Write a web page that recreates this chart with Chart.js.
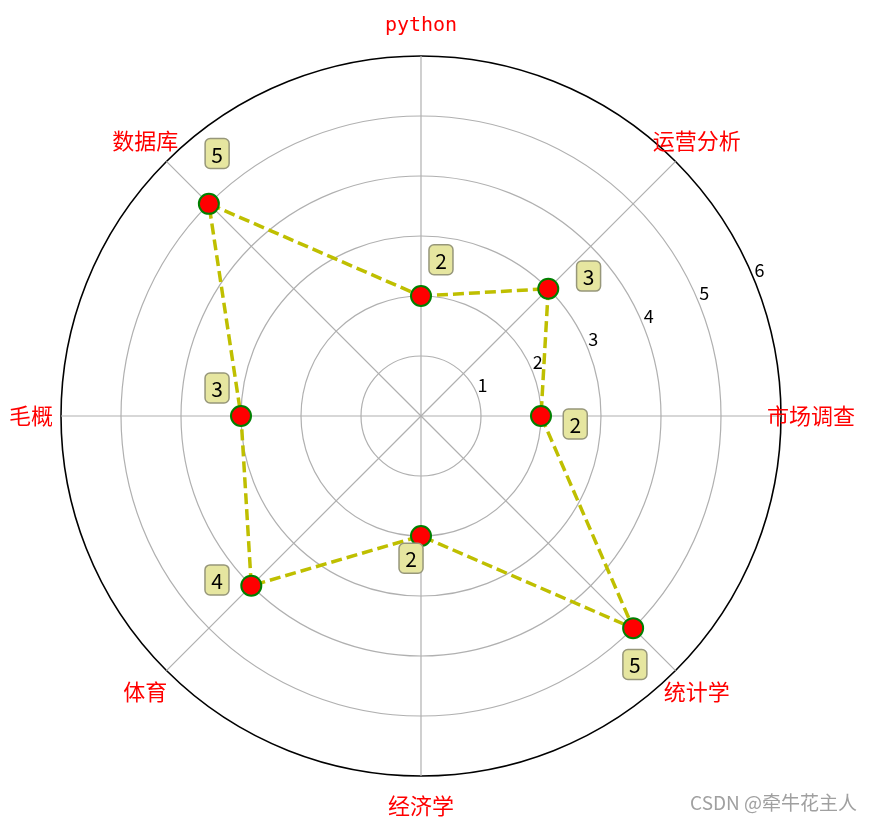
<!DOCTYPE html>
<html>
<head>
<meta charset="utf-8">
<script src="https://cdn.jsdelivr.net/npm/chart.js@4"></script>
<style>
  html, body { margin: 0; padding: 0; background: #fff; }
  #wrap { width: 873px; height: 823px; }
</style>
</head>
<body>
<div id="wrap"><canvas id="radarChart"></canvas></div>
<script>
const categories = ['python', '运营分析', '市场调查', '统计学', '经济学', '体育', '毛概', '数据库'];
const scores = [2, 3, 2, 5, 2, 4, 3, 5];
const tickLabels = [1, 2, 3, 4, 5, 6];

// draws the polar texts the way matplotlib places them
const polarText = {
  id: 'polarText',
  afterDatasetsDraw(chart) {
    const r = chart.scales.r;
    const c = chart.ctx;
    const at = (angle, value) => {
      const d = r.getDistanceFromCenterForValue(value);
      return { x: r.xCenter + Math.cos(angle) * d, y: r.yCenter + Math.sin(angle) * d };
    };
    c.save();

    // radial tick labels along 22.5 deg
    c.fillStyle = '#000';
    c.font = '18px "Noto Sans CJK SC"';
    c.textAlign = 'left';
    c.textBaseline = 'alphabetic';
    tickLabels.forEach(v => {
      const p = at(-22.5 * Math.PI / 180, v);
      c.fillText(String(v), p.x + 1, p.y - 1);
    });

    // category labels
    c.fillStyle = '#ff0000';
    c.textAlign = 'center';
    c.textBaseline = 'middle';
    categories.forEach((lab, i) => {
      const p = at(r.getIndexAngle(i) - Math.PI / 2, r.max + 0.5);
      c.font = /^[a-z]+$/i.test(lab) ? '20px "DejaVu Sans Mono"' : '22px "Noto Sans CJK SC"';
      c.fillText(lab, p.x, p.y);
    });

    // value boxes
    c.font = '21px "Noto Sans CJK SC"';
    scores.forEach((v, i) => {
      const p = at(r.getIndexAngle(i) - Math.PI / 2 + 0.1, v + 0.5);
      const cx = p.x + 5, cy = p.y - 7;
      const w = 24, h = 30;
      c.beginPath();
      c.roundRect(cx - w / 2, cy - h / 2, w, h, 5);
      c.fillStyle = '#e6e6a0';
      c.fill();
      c.lineWidth = 1.5;
      c.strokeStyle = '#97977a';
      c.stroke();
      c.fillStyle = '#000';
      c.fillText(String(v), cx, cy + 1);
    });

    // watermark
    c.fillStyle = '#a0a0a0';
    c.font = '19px "Noto Sans CJK SC"';
    c.textAlign = 'right';
    c.fillText('CSDN @牵牛花主人', 857, 803);
    c.restore();
  }
};

const ctx = document.getElementById('radarChart').getContext('2d');
const radarChart = new Chart(ctx, {
  type: 'radar',
  data: {
    labels: categories,
    datasets: [
      {
        data: scores,
        fill: false,
        borderColor: '#bfbf00',
        borderWidth: 3.5,
        borderDash: [11, 5],
        pointRadius: 10,
        pointHoverRadius: 10,
        pointBackgroundColor: '#ff0000',
        pointBorderColor: '#008000',
        pointBorderWidth: 2
      }
    ]
  },
  options: {
    responsive: true,
    maintainAspectRatio: false,
    animation: false,
    layout: {
      padding: { left: 61, right: 92, top: 56, bottom: 47 }
    },
    scales: {
      r: {
        min: 0,
        max: 6,
        ticks: { display: false, stepSize: 1 },
        pointLabels: { display: false },
        grid: {
          circular: true,
          color: (c) => c.tick && c.tick.value === 6 ? '#000000' : '#b0b0b0',
          lineWidth: (c) => c.tick && c.tick.value === 6 ? 1.6 : 1.2
        },
        angleLines: { color: '#b0b0b0', lineWidth: 1.2 }
      }
    },
    plugins: {
      legend: { display: false },
      tooltip: { enabled: false }
    }
  },
  plugins: [polarText]
});
</script>
</body>
</html>
